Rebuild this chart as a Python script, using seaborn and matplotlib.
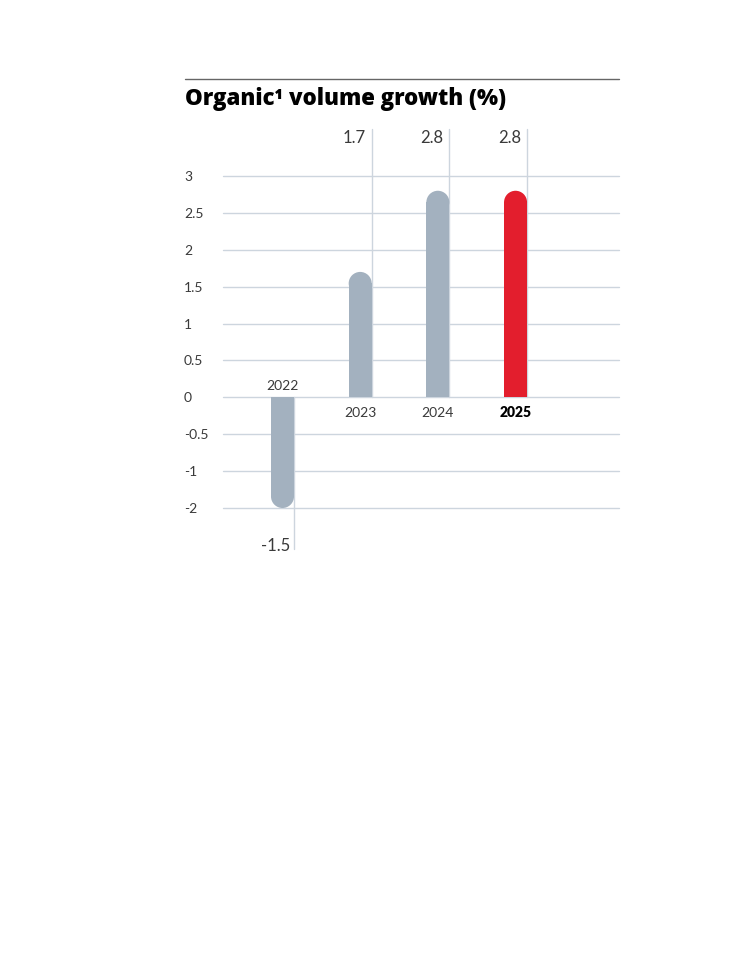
import numpy as np
import pandas as pd
import seaborn as sns
import matplotlib.pyplot as plt
from matplotlib.patches import Ellipse

years = ["2022", "2023", "2024", "2025"]
values = [-1.5, 1.7, 2.8, 2.8]
value_labels = ["-1.5", "1.7", "2.8", "2.8"]
bar_colors = ["#a3b1bf", "#a3b1bf", "#a3b1bf", "#e31e2d"]
# the printed axis skips "-1.5", so the bottom gridline reads "-2"
ytick_pos = [-1.5, -1.0, -0.5, 0, 0.5, 1.0, 1.5, 2.0, 2.5, 3.0]
ytick_labels = ["-2", "-1", "-0.5", "0", "0.5", "1", "1.5", "2", "2.5", "3"]

sns.set_theme(style="white")
plt.rcParams['font.family'] = ['Lato', 'DejaVu Sans']

grid_col = "#cdd5de"
text_col = "#3a3a3a"

fig = plt.figure(figsize=(7.48, 9.73), dpi=100)
W, H = 748, 973
ax = fig.add_axes([223 / W, 1 - 508 / H, (619 - 223) / W, (508 - 176) / H])

df = pd.DataFrame({"year": years, "value": values})
sns.barplot(data=df, x="year", y="value", hue="year", palette=bar_colors,
            legend=False, width=0.296, saturation=1, ax=ax, zorder=3,
            linewidth=0, edgecolor="none")

ax.set_xlim(-0.766, 4.332)
ax.set_ylim(-1.5, 3.0)

# rounded free end of each bar
px_x = (619 - 223) / (4.332 + 0.766)
px_y = (508 - 176) / 4.5
for patch, v in zip(ax.patches, values):
    patch.set_linewidth(0)
    w = patch.get_width()
    r = (w / 2) * px_x / px_y
    s = np.sign(v)
    patch.set_height(v - s * r)
    cx = patch.get_x() + w / 2
    ax.add_patch(Ellipse((cx, v - s * r), w, 2 * r, facecolor=patch.get_facecolor(),
                         lw=0, zorder=3))

# gridlines
for y in ytick_pos:
    ax.axhline(y, color=grid_col, lw=1, zorder=1, clip_on=False)

# leader lines and value labels
for i, (v, lab) in enumerate(zip(values, value_labels)):
    xr = i + 0.148
    if v > 0:
        ax.plot([xr, xr], [0, 3.64], color=grid_col, lw=1, zorder=2, clip_on=False)
        ax.text(xr - 0.08, 3.52, lab, ha="right", va="center", fontsize=12,
                color=text_col, clip_on=False)
    else:
        ax.plot([xr, xr], [0, -2.05], color=grid_col, lw=1, zorder=2, clip_on=False)
        ax.text(xr - 0.05, -2.01, lab, ha="right", va="center", fontsize=12,
                color=text_col, clip_on=False)

# year labels
for i, (v, yr) in enumerate(zip(values, years)):
    bold = yr == "2025"
    ypos = 0.16 if v < 0 else -0.21
    ax.text(i, ypos, yr, ha="center", va="center", fontsize=10,
            color="black" if bold else text_col,
            fontweight="heavy" if bold else "normal")

ax.set_yticks(ytick_pos)
ax.set_yticklabels(ytick_labels, ha="left", fontsize=10, color=text_col)
ax.tick_params(axis="y", length=0, pad=28)
ax.set_xticks([])
ax.set_xlabel("")
ax.set_ylabel("")
for sp in ax.spines.values():
    sp.set_visible(False)

# title and rule above it
fig.add_artist(plt.Line2D([185 / W, 619 / W], [1 - 79 / H, 1 - 79 / H],
                          color="#666666", lw=1))
fig.text(185 / W, 1 - 99 / H, "Organic\u00b9 volume growth (%)", ha="left",
         va="center", fontsize=16, fontweight="heavy", color="black",
         family=["Open Sans", "DejaVu Sans"])

fig.savefig("out.png", dpi=100)
